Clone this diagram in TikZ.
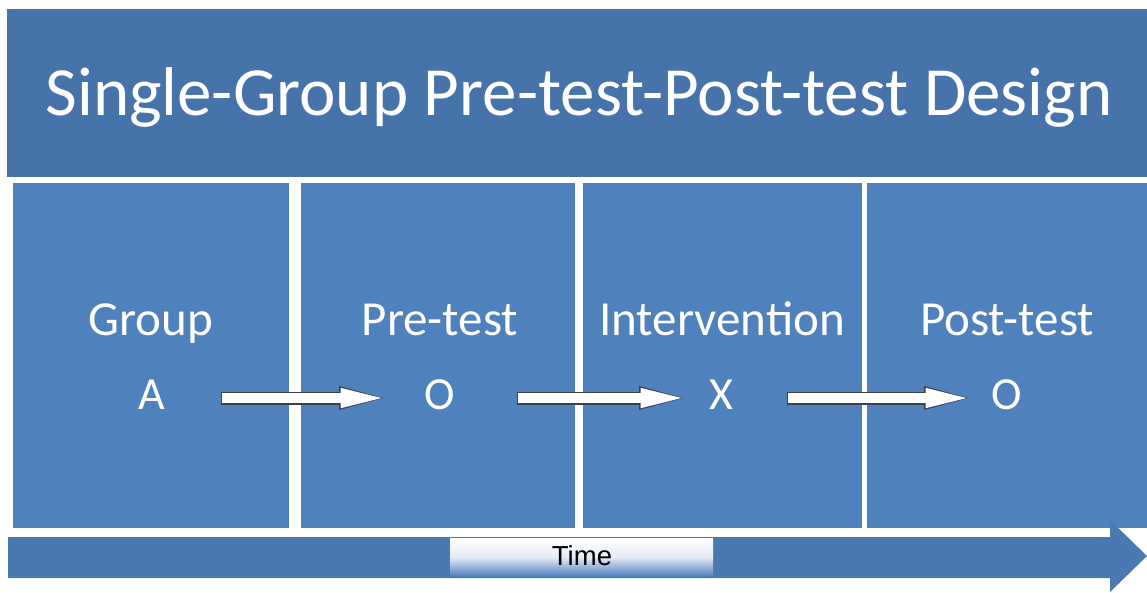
\documentclass[tikz,border=0pt]{standalone}
\usepackage{fontspec}
\setmainfont{Carlito}
\newfontfamily\arialfont{Liberation Sans}
\usetikzlibrary{arrows.meta}
\definecolor{titleblue}{HTML}{4674AA}
\definecolor{colblue}{HTML}{4F81BD}
\definecolor{barblue}{HTML}{4A78B0}
\definecolor{edgegray}{HTML}{3A3F48}
\tikzset{
  panel/.style={fill=colblue, draw=none, anchor=north west, inner sep=0pt},
  titlebox/.style={fill=titleblue, draw=none, anchor=north west, inner sep=0pt},
  titletext/.style={text=white, font=\fontsize{69}{80}\selectfont, anchor=base, inner sep=0pt},
  headtext/.style={text=white, font=\fontsize{49}{58}\selectfont, anchor=base, inner sep=0pt},
  lettertext/.style={text=white, font=\fontsize{46}{54}\selectfont, anchor=base, inner sep=0pt},
  outerarrow/.style={draw=edgegray, line width=13pt, -{Triangle[length=44pt,width=24pt,line width=0pt]}},
  innerarrow/.style={draw=white, line width=10.5pt, shorten >=1.5pt, shorten <=1.2pt, -{Triangle[length=41pt,width=20.5pt,line width=0pt]}},
}
\begin{document}
\begin{tikzpicture}[x=1pt,y=-1pt]
\useasboundingbox (0,0) rectangle (1147,592);
\fill[white] (0,0) rectangle (1147,592);
% title
\node[titlebox, minimum width=1140pt, minimum height=168pt] (tbox) at (7,9) {};
\node[titletext] (title) at (579,115) {Single-Group Pre-test-Post-test Design};
% panels
\node[panel, minimum width=276pt, minimum height=345pt] (p1) at (13,183) {};
\node[panel, minimum width=274pt, minimum height=345pt] (p2) at (301,183) {};
\node[panel, minimum width=279pt, minimum height=345pt] (p3) at (583,183) {};
\node[panel, minimum width=280pt, minimum height=345pt] (p4) at (867,183) {};
% headings
\node[headtext] (h1) at (151,335) {Group};
\node[headtext] (h2) at (440,335) {Pre-test};
\node[headtext] (h3) at (722,335) {Intervention};
\node[headtext] (h4) at (1007,335) {Post-test};
% letters
\node[lettertext] (l1) at (152,409) {A};
\node[lettertext] (l2) at (440,409) {O};
\node[lettertext] (l3) at (721,409) {X};
\node[lettertext] (l4) at (1007,409) {O};
% white block arrows
\draw[outerarrow] ([xshift=69pt,yshift=11pt]l1.base) -- ([xshift=-57pt,yshift=11pt]l2.base);
\draw[innerarrow] ([xshift=69pt,yshift=11pt]l1.base) -- ([xshift=-57pt,yshift=11pt]l2.base);
\draw[outerarrow] ([xshift=77pt,yshift=11pt]l2.base) -- ([xshift=-38pt,yshift=11pt]l3.base);
\draw[innerarrow] ([xshift=77pt,yshift=11pt]l2.base) -- ([xshift=-38pt,yshift=11pt]l3.base);
\draw[outerarrow] ([xshift=66pt,yshift=11pt]l3.base) -- ([xshift=-39pt,yshift=11pt]l4.base);
\draw[innerarrow] ([xshift=66pt,yshift=11pt]l3.base) -- ([xshift=-39pt,yshift=11pt]l4.base);
% time bar
\fill[barblue] (8,537) -- (1110,537) -- (1110,520) -- (1147,556) -- (1110,592) -- (1110,578) -- (8,578) -- cycle;
\shade[top color=white, bottom color=colblue, middle color=white!85!colblue] (450,538) rectangle (713,576);
\node[font=\arialfont\fontsize{27.5}{32}\selectfont, text=black, inner sep=0pt, anchor=base] (time) at (582,565) {Time};
\end{tikzpicture}
\end{document}
